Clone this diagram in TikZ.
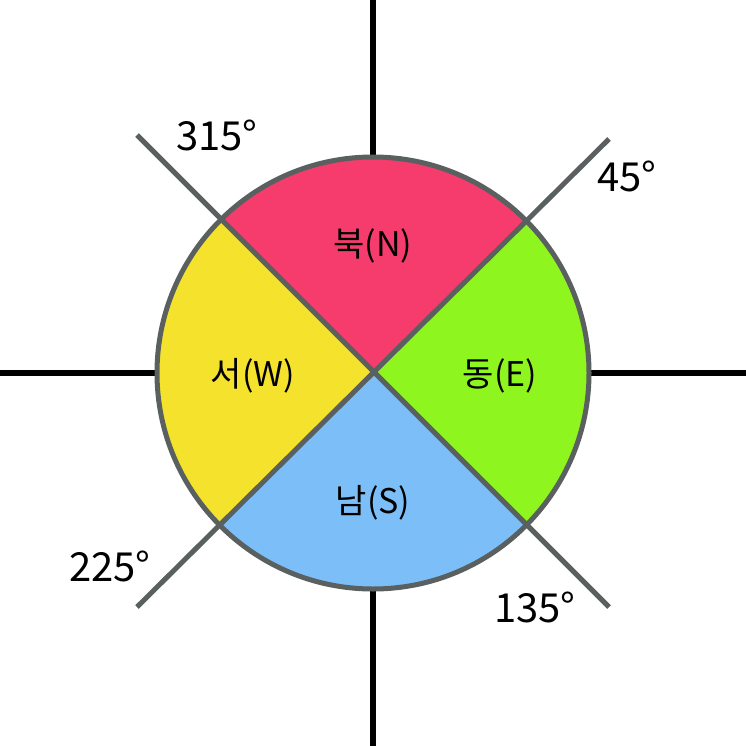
\documentclass[tikz,border=0pt]{standalone}
\usepackage{fontspec}
\setmainfont{Noto Sans CJK KR}
\begin{document}
\begin{tikzpicture}[x=1pt,y=-1pt,
  axis/.style={line width=6pt,black},
  diag/.style={line width=5pt,color=gr},
  lbl/.style={font=\fontsize{34}{40}\selectfont},
  deg/.style={font=\fontsize{40}{46}\selectfont}]
\definecolor{gr}{HTML}{5A6060}
\definecolor{cn}{HTML}{F53C6C}
\definecolor{ce}{HTML}{8EF51E}
\definecolor{cs}{HTML}{7CBEF8}
\definecolor{cw}{HTML}{F5E22C}
\useasboundingbox (0,0) rectangle (746,746);
\coordinate (c) at (373,373);
\draw[axis] (373,0) -- (373,746);
\draw[axis] (0,373) -- (746,373);
% sectors (y flipped: angle measured clockwise visually)
\fill[cn] (c) -- ++(-135:216) arc[start angle=-135,end angle=-45,radius=216] -- cycle;
\fill[ce] (c) -- ++(-45:216) arc[start angle=-45,end angle=45,radius=216] -- cycle;
\fill[cs] (c) -- ++(45:216) arc[start angle=45,end angle=135,radius=216] -- cycle;
\fill[cw] (c) -- ++(135:216) arc[start angle=135,end angle=225,radius=216] -- cycle;
\coordinate (a1) at (137,135);
\coordinate (a2) at (609,607);
\coordinate (b1) at (609,139);
\coordinate (b2) at (137,607);
\draw[diag] (a1) -- (a2);
\draw[diag] (b1) -- (b2);
\draw[line width=5pt,color=gr] (c) circle[radius=216];
\node[lbl] (n) at (373,246) {북(N)};
\node[lbl] (e) at (500,376) {동(E)};
\node[lbl] (s) at (373,503) {남(S)};
\node[lbl] (w) at (253,376) {서(W)};
\node[deg] (d315) at (217,135) {315°};
\node[deg] (d45) at (627,176) {45°};
\node[deg] (d225) at (110,566) {225°};
\node[deg] (d135) at (535,607) {135°};
\end{tikzpicture}
\end{document}
